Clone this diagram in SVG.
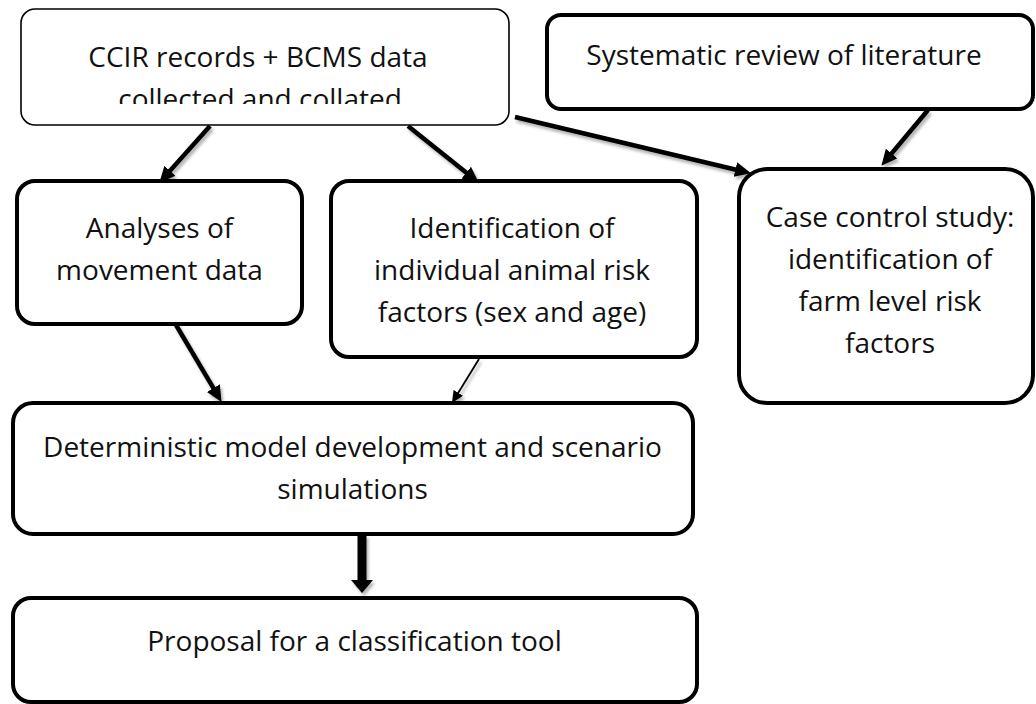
<svg xmlns="http://www.w3.org/2000/svg" width="1036" height="704" viewBox="0 0 1036 704">
  <style>
    .box { fill: #ffffff; stroke: #000000; stroke-width: 4; }
    .box-thin { fill: #ffffff; stroke: #000000; stroke-width: 1.6; }
    .label { font-family: "Open Sans", "Liberation Sans", sans-serif; font-size: 28px; fill: #111111; text-anchor: middle; }
    .edge { fill: none; stroke: #000000; stroke-width: 4.5; }
    .edge-thin { fill: none; stroke: #000000; stroke-width: 1.8; }
    .edge-bold { fill: none; stroke: #000000; stroke-width: 9; }
  </style>
  <defs>
    <marker id="head" markerUnits="userSpaceOnUse" markerWidth="17" markerHeight="16" refX="3" refY="7.5" orient="auto">
      <path d="M0,0 L16,7.5 L0,15 z" fill="#000000"/>
    </marker>
    <marker id="head-thin" markerUnits="userSpaceOnUse" markerWidth="13" markerHeight="12" refX="2" refY="5.5" orient="auto">
      <path d="M0,0 L12,5.5 L0,11 z" fill="#000000"/>
    </marker>
    <marker id="head-bold" markerUnits="userSpaceOnUse" markerWidth="14" markerHeight="23" refX="0" refY="11" orient="auto">
      <path d="M0,0 L13,11 L0,22 z" fill="#000000"/>
    </marker>
    <filter id="soft-shadow" x="-20%" y="-20%" width="140%" height="140%">
      <feDropShadow dx="2" dy="3" stdDeviation="1.6" flood-color="#000000" flood-opacity="0.3"/>
    </filter>
    <clipPath id="ccir-clip">
      <rect x="21" y="9" width="488" height="95"/>
    </clipPath>
  </defs>

  <!-- connectors -->
  <g id="connectors" filter="url(#soft-shadow)">
    <line class="edge" x1="210" y1="126" x2="168" y2="173" marker-end="url(#head)"/>
    <line class="edge" x1="408" y1="126" x2="468.6" y2="174.5" marker-end="url(#head)"/>
    <line class="edge" x1="515" y1="117" x2="738.3" y2="170.2" marker-end="url(#head)"/>
    <line class="edge" x1="928" y1="110" x2="889.7" y2="155.8" marker-end="url(#head)"/>
    <line class="edge" x1="176" y1="325" x2="214.9" y2="390.7" marker-end="url(#head)"/>
    <line class="edge-thin" x1="479" y1="359" x2="457.2" y2="394.5" marker-end="url(#head-thin)"/>
    <line class="edge-bold" x1="362" y1="535" x2="362" y2="580" marker-end="url(#head-bold)"/>
  </g>

  <!-- data sources -->
  <g id="node-ccir">
    <rect class="box-thin" x="21" y="9" width="488" height="116" rx="14"/>
    <g clip-path="url(#ccir-clip)">
      <text class="label" x="258" y="67">CCIR records + BCMS data</text>
      <text class="label" x="260" y="109">collected and collated</text>
    </g>
  </g>

  <g id="node-review">
    <rect class="box" x="547" y="15" width="486" height="94" rx="14"/>
    <text class="label" x="784" y="65">Systematic review of literature</text>
  </g>

  <!-- analyses -->
  <g id="node-movement">
    <rect class="box" x="17" y="181" width="285" height="143" rx="18"/>
    <text class="label" x="159.5" y="238">Analyses of</text>
    <text class="label" x="159.5" y="280">movement data</text>
  </g>

  <g id="node-animal-risk">
    <rect class="box" x="331" y="181" width="366" height="176" rx="18"/>
    <text class="label" x="512" y="238">Identification of</text>
    <text class="label" x="512" y="280">individual animal risk</text>
    <text class="label" x="512" y="322">factors (sex and age)</text>
  </g>

  <g id="node-case-control">
    <rect class="box" x="739" y="169" width="294" height="234" rx="28"/>
    <text class="label" x="890" y="227">Case control study:</text>
    <text class="label" x="890" y="269">identification of</text>
    <text class="label" x="890" y="311">farm level risk</text>
    <text class="label" x="890" y="353">factors</text>
  </g>

  <!-- modelling -->
  <g id="node-model">
    <rect class="box" x="13" y="403" width="680" height="131" rx="20"/>
    <text class="label" x="352.5" y="457">Deterministic model development and scenario</text>
    <text class="label" x="352.5" y="499">simulations</text>
  </g>

  <g id="node-proposal">
    <rect class="box" x="13" y="598" width="684" height="104" rx="18"/>
    <text class="label" x="354.5" y="651">Proposal for a classification tool</text>
  </g>
</svg>
